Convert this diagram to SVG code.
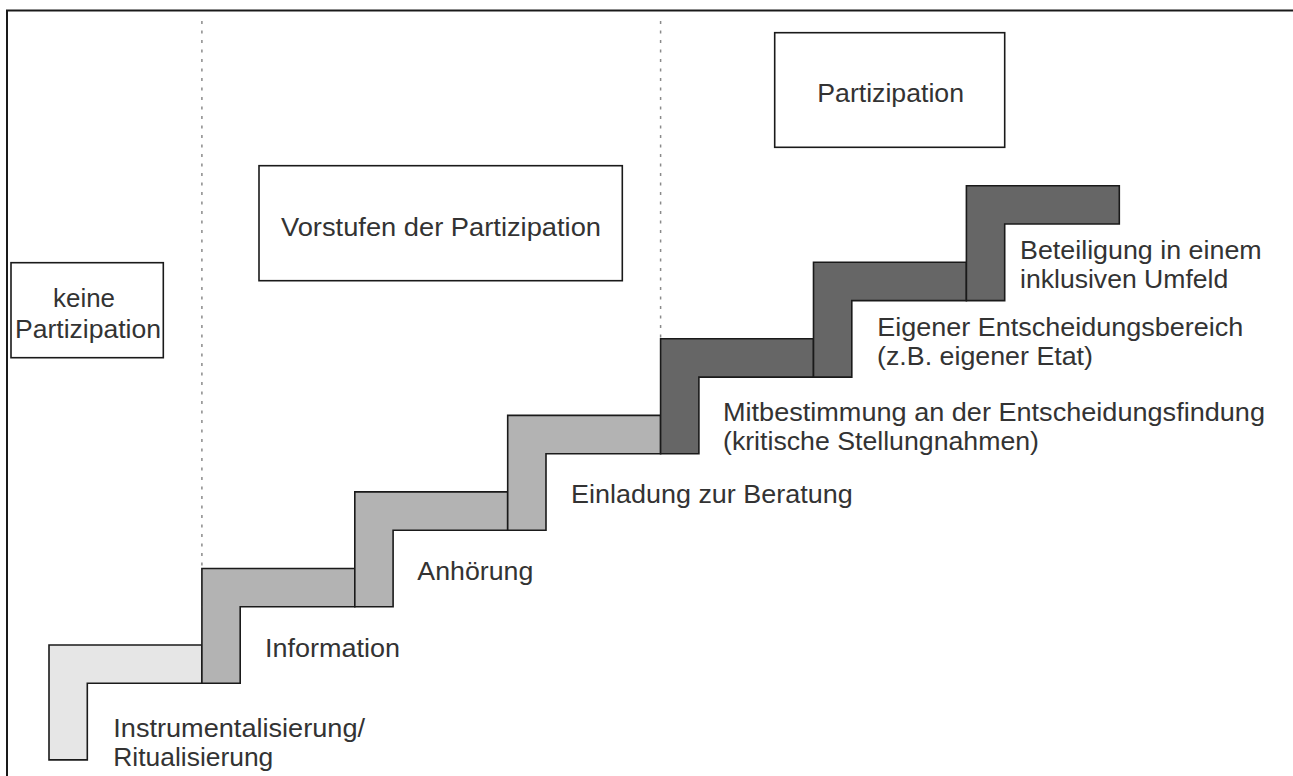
<svg xmlns="http://www.w3.org/2000/svg" width="1293" height="776" viewBox="0 0 1293 776">
<style>
.frame{fill:none;stroke:#1a1a1a;stroke-width:2}
.box{fill:#ffffff;stroke:#1a1a1a;stroke-width:1.6}
.step{stroke:#1a1a1a;stroke-width:1.6;stroke-linejoin:miter}
.s1{fill:#e6e6e6}
.s2{fill:#b3b3b3}
.s3{fill:#666666}
.div{stroke:#8a8a8a;stroke-width:1.5;stroke-dasharray:3 6.5;fill:none}
.t{font-family:"Liberation Sans",Arial,Helvetica,sans-serif;font-size:25px;fill:#333333}
</style>
<rect width="1293" height="776" fill="#ffffff"/>
<rect class="frame" x="7" y="10.5" width="1300" height="790"/>
<g id="dividers">
<line class="div" x1="201.9" y1="21" x2="201.9" y2="568.5"/>
<line class="div" x1="660.6" y1="21" x2="660.6" y2="338.8"/>
</g>
<g id="box-keine">
<rect class="box" x="11" y="262.7" width="152.3" height="95"/>
<text class="t" x="53" y="307" textLength="62" lengthAdjust="spacingAndGlyphs">keine</text>
<text class="t" x="15" y="337.5" textLength="146" lengthAdjust="spacingAndGlyphs">Partizipation</text>
</g>
<g id="box-vorstufen">
<rect class="box" x="259" y="165.7" width="363.3" height="115"/>
<text class="t" x="281" y="236" textLength="320" lengthAdjust="spacingAndGlyphs">Vorstufen der Partizipation</text>
</g>
<g id="box-partizipation">
<rect class="box" x="774.7" y="32.7" width="230" height="114.6"/>
<text class="t" x="817.3" y="101.7" textLength="146.7" lengthAdjust="spacingAndGlyphs">Partizipation</text>
</g>
<g id="step1">
<polygon class="step s1" points="49,645 201.9,645 201.9,683.3 87.3,683.3 87.3,759.9 49,759.9"/>
<text class="t" x="113.3" y="736.7" textLength="251.7" lengthAdjust="spacingAndGlyphs">Instrumentalisierung/</text>
<text class="t" x="113.3" y="766" textLength="160" lengthAdjust="spacingAndGlyphs">Ritualisierung</text>
</g>
<g id="step2">
<polygon class="step s2" points="201.9,568.5 354.8,568.5 354.8,606.8 240.2,606.8 240.2,683.3 201.9,683.3"/>
<text class="t" x="265" y="657.3" textLength="135" lengthAdjust="spacingAndGlyphs">Information</text>
</g>
<g id="step3">
<polygon class="step s2" points="354.8,491.9 507.7,491.9 507.7,530.2 393.1,530.2 393.1,606.8 354.8,606.8"/>
<text class="t" x="417.3" y="580" textLength="116" lengthAdjust="spacingAndGlyphs">Anhörung</text>
</g>
<g id="step4">
<polygon class="step s2" points="507.7,415.4 660.6,415.4 660.6,453.7 546,453.7 546,530.2 507.7,530.2"/>
<text class="t" x="571" y="503" textLength="281.7" lengthAdjust="spacingAndGlyphs">Einladung zur Beratung</text>
</g>
<g id="step5">
<polygon class="step s3" points="660.6,338.8 813.5,338.8 813.5,377.1 698.9,377.1 698.9,453.7 660.6,453.7"/>
<text class="t" x="723" y="420.5" textLength="542" lengthAdjust="spacingAndGlyphs">Mitbestimmung an der Entscheidungsfindung</text>
<text class="t" x="723" y="450" textLength="316" lengthAdjust="spacingAndGlyphs">(kritische Stellungnahmen)</text>
</g>
<g id="step6">
<polygon class="step s3" points="813.5,262.3 966.4,262.3 966.4,300.6 851.8,300.6 851.8,377.1 813.5,377.1"/>
<text class="t" x="877.3" y="335.5" textLength="366" lengthAdjust="spacingAndGlyphs">Eigener Entscheidungsbereich</text>
<text class="t" x="877" y="364.5" textLength="216" lengthAdjust="spacingAndGlyphs">(z.B. eigener Etat)</text>
</g>
<g id="step7">
<polygon class="step s3" points="966.4,185.7 1119.3,185.7 1119.3,224 1004.7,224 1004.7,300.6 966.4,300.6"/>
<text class="t" x="1020" y="259.3" textLength="241.7" lengthAdjust="spacingAndGlyphs">Beteiligung in einem</text>
<text class="t" x="1020" y="288.3" textLength="208.3" lengthAdjust="spacingAndGlyphs">inklusiven Umfeld</text>
</g>
</svg>
